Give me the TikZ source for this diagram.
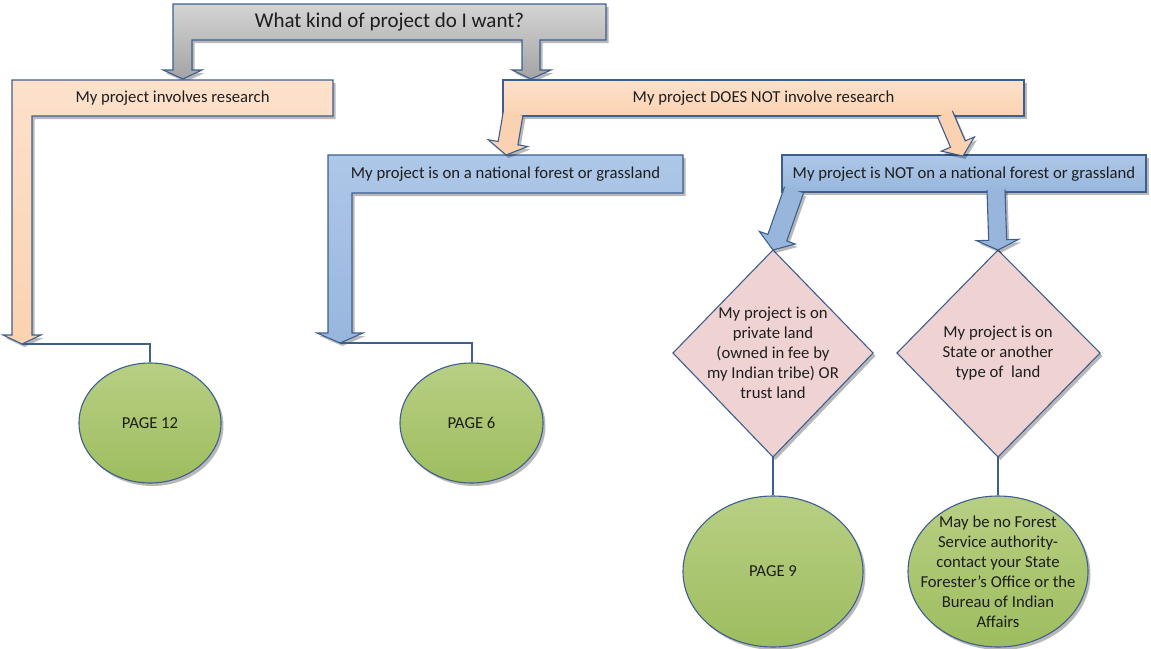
\documentclass[tikz,border=0pt]{standalone}
\usepackage{fontspec}
\setmainfont{Carlito}
\usetikzlibrary{calc,shapes.geometric,shadows}
\definecolor{bord}{HTML}{3D5F8F}
\definecolor{greyT}{HTML}{D4D4D4}
\definecolor{greyB}{HTML}{A3A3A3}
\definecolor{oraT}{HTML}{FDE1CB}
\definecolor{oraB}{HTML}{FBD2B1}
\definecolor{bluT}{HTML}{ADC7E8}
\definecolor{bluB}{HTML}{98B6DC}
\definecolor{pinkF}{HTML}{EFD3D2}
\definecolor{grnT}{HTML}{B8CF84}
\definecolor{grnB}{HTML}{9EBD5E}
\definecolor{txtc}{HTML}{1E1E1E}
\tikzset{
  shp/.style={draw=bord, line width=1.1pt, line join=miter,
    drop shadow={shadow xshift=2.5pt, shadow yshift=-3pt, fill=black, opacity=.28}},
  txt/.style={font=\fontsize{16.7}{20}\selectfont, text=txtc, align=center, inner sep=0pt},
  conn/.style={draw=bord, line width=2pt},
  arrfill/.style={drop shadow={shadow xshift=2.5pt, shadow yshift=-3pt, fill=black, opacity=.28}},
  arrline/.style={draw=bord, line width=1.1pt, line join=miter},
}
% #1 fill colour, #2 start, #3 tip, #4 stem half width, #5 head half width, #6 head length
\newcommand{\blockarr}[6]{%
  \coordinate (hh) at ($(#3)!#6!(#2)$);
  \fill[arrfill, fill=#1] ($(#2)!#4!90:(#3)$) -- ($(hh)!#4!90:(#3)$) -- ($(hh)!#5!90:(#3)$) -- (#3)
     -- ($(hh)!#5!-90:(#3)$) -- ($(hh)!#4!-90:(#3)$) -- ($(#2)!#4!-90:(#3)$) -- cycle;
  \draw[arrline] ($(#2)!#4!90:(#3)$) -- ($(hh)!#4!90:(#3)$) -- ($(hh)!#5!90:(#3)$) -- (#3)
     -- ($(hh)!#5!-90:(#3)$) -- ($(hh)!#4!-90:(#3)$) -- ($(#2)!#4!-90:(#3)$);
}
\begin{document}
\begin{tikzpicture}[x=1pt,y=-1pt]
\useasboundingbox (0,0) rectangle (1151,648);

% ---- top question shape
\path[shp, top color=greyT, bottom color=greyB]
  (173,4) -- (606,4) -- (606,40) -- (540,40) -- (540,70) -- (551,70) -- (531,79)
  -- (512,70) -- (522,70) -- (522,40) -- (192,40) -- (192,70) -- (202,70)
  -- (183,79) -- (163,70) -- (173,70) -- cycle;
\node[txt, font=\fontsize{21}{24}\selectfont] (q) at (389.5,22) {What kind of project do I want?};

% ---- research (orange, left)
\coordinate (t12) at (22,344);
\path[shp, top color=oraT, bottom color=oraB]
  (12,80) -- (333,80) -- (333,116) -- (32,116) -- (32,335) -- (41,335) -- (t12)
  -- (3,335) -- (12,335) -- cycle;
\node[txt] (res) at (172.5,98) {My project involves research};

% ---- no research (orange, right)
\path[shp, top color=oraT, bottom color=oraB] (503,80) rectangle (1024,116);
\node[txt] (nores) at (763.5,98) {My project DOES NOT involve research};

% ---- national forest (blue)
\coordinate (t6) at (340,343);
\path[shp, top color=bluT, bottom color=bluB]
  (328,155) -- (683,155) -- (683,193) -- (352,193) -- (352,333) -- (363,333) -- (t6)
  -- (317,333) -- (328,333) -- cycle;
\node[txt] (nf) at (505.5,174) {My project is on a national forest or grassland};

% ---- not national forest (blue)
\path[shp, top color=bluT, bottom color=bluB] (782,155) rectangle (1146,192);
\node[txt] (nnf) at (964,174) {My project is NOT on a national forest or grassland};

% ---- diamonds
\coordinate (d1) at (773,353);
\coordinate (d1t) at (773,250);
\coordinate (d1b) at (773,457);
\path[shp, fill=pinkF] (d1t) -- (873,353) -- (d1b) -- (673,353) -- cycle;
\node[txt] (d1txt) at (d1) {My project is on\\private land\\(owned in fee by\\my Indian tribe) OR\\trust land};

\coordinate (d2) at (998,353);
\coordinate (d2t) at (998,250);
\coordinate (d2b) at (998,457);
\path[shp, fill=pinkF] (d2t) -- (1100,353) -- (d2b) -- (897,353) -- cycle;
\node[txt] (d2txt) at (d2) {My project is on\\State or another\\type of\ \ land};

% ---- block arrows
\coordinate (oa1s) at (513,114); \coordinate (oa1t) at (506,155);
\coordinate (oa2s) at (945,114); \coordinate (oa2t) at (963,156);
\coordinate (ba1s) at (794,190); \coordinate (ba1t) at (d1t);
\coordinate (ba2s) at (996,190); \coordinate (ba2t) at (d2t);
\blockarr{oraB}{oa1s}{oa1t}{10pt}{20pt}{12pt}
\blockarr{oraB}{oa2s}{oa2t}{8pt}{18pt}{13pt}
\blockarr{bluB}{ba1s}{ba1t}{10pt}{19pt}{13pt}
\blockarr{bluB}{ba2s}{ba2t}{9pt}{21pt}{10pt}

% ---- end ellipses
\node[shp, ellipse, top color=grnT, bottom color=grnB, minimum width=142pt, minimum height=120pt, inner sep=0pt, txt] (p12) at (150,423) {PAGE 12};
\node[shp, ellipse, top color=grnT, bottom color=grnB, minimum width=143pt, minimum height=120pt, inner sep=0pt, txt] (p6) at (471.5,423) {PAGE 6};
\node[shp, ellipse, top color=grnT, bottom color=grnB, minimum width=180pt, minimum height=151pt, inner sep=0pt, txt] (p9) at (773,571.5) {PAGE 9};
\node[shp, ellipse, top color=grnT, bottom color=grnB, minimum width=180pt, minimum height=151pt, inner sep=0pt] (fs) at (998,571.5) {};
\node[txt] (fstxt) at (fs) {May be no Forest\\Service authority-\\contact your State\\Forester’s Office or the\\Bureau of Indian\\Affairs};

% ---- connectors
\draw[conn] (t12) -| (p12.north);
\draw[conn] (t6) -| (p6.north);
\draw[conn] (d1b) -- (p9.north);
\draw[conn] (d2b) -- (fs.north);
\end{tikzpicture}
\end{document}
